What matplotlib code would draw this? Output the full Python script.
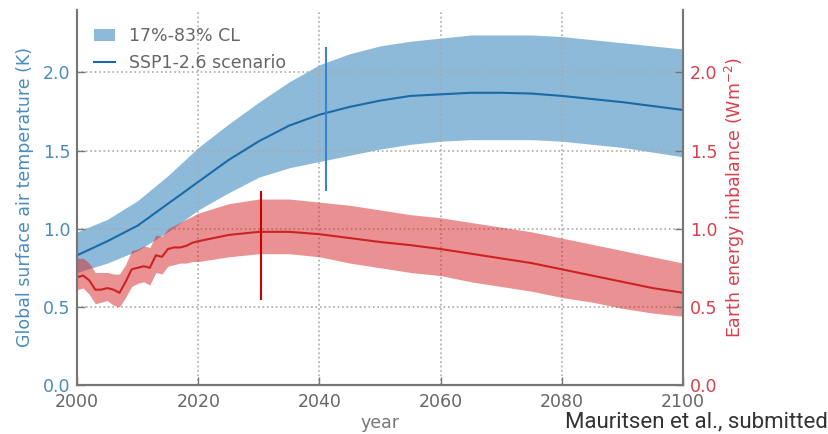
import numpy as np
import matplotlib
matplotlib.use('Agg')
import matplotlib.pyplot as plt
from matplotlib.patches import Patch
from matplotlib.lines import Line2D

# global surface air temperature (K), SSP1-2.6
temp_years = [2000, 2005, 2010, 2015, 2020, 2025, 2030, 2035, 2040, 2045, 2050,
              2055, 2060, 2065, 2070, 2075, 2080, 2085, 2090, 2095, 2100]
temp_mean = [0.83, 0.92, 1.02, 1.16, 1.30, 1.44, 1.56, 1.66, 1.73, 1.78, 1.82,
             1.85, 1.86, 1.87, 1.87, 1.865, 1.85, 1.83, 1.81, 1.785, 1.76]
temp_lo = [0.72, 0.78, 0.86, 0.98, 1.12, 1.23, 1.33, 1.39, 1.43, 1.47, 1.51,
           1.54, 1.56, 1.57, 1.57, 1.57, 1.56, 1.54, 1.52, 1.49, 1.46]
temp_hi = [0.98, 1.06, 1.18, 1.34, 1.52, 1.67, 1.81, 1.94, 2.05, 2.12, 2.17,
           2.20, 2.22, 2.24, 2.24, 2.24, 2.23, 2.21, 2.19, 2.17, 2.15]

# earth energy imbalance (W m-2)
eei_years = [2000, 2001, 2002, 2003, 2004, 2005, 2006, 2007, 2008, 2009, 2010,
             2011, 2012, 2013, 2014, 2015, 2016, 2017, 2018, 2019, 2020, 2025,
             2030, 2035, 2040, 2045, 2050, 2055, 2060, 2065, 2070, 2075, 2080,
             2085, 2090, 2095, 2100]
eei_mean = [0.69, 0.70, 0.67, 0.61, 0.61, 0.62, 0.61, 0.59, 0.66, 0.74, 0.75,
            0.76, 0.75, 0.83, 0.82, 0.87, 0.88, 0.88, 0.89, 0.91, 0.92, 0.96,
            0.98, 0.98, 0.965, 0.94, 0.915, 0.895, 0.87, 0.84, 0.81, 0.78, 0.74,
            0.70, 0.66, 0.62, 0.59]
eei_lo = [0.61, 0.62, 0.58, 0.52, 0.53, 0.54, 0.51, 0.50, 0.56, 0.63, 0.65,
          0.66, 0.64, 0.72, 0.71, 0.76, 0.77, 0.78, 0.78, 0.79, 0.79, 0.82,
          0.84, 0.84, 0.82, 0.78, 0.75, 0.72, 0.70, 0.66, 0.63, 0.60, 0.56,
          0.53, 0.49, 0.46, 0.44]
eei_hi = [0.81, 0.81, 0.78, 0.72, 0.72, 0.72, 0.71, 0.71, 0.77, 0.86, 0.87,
          0.89, 0.88, 0.96, 0.95, 1.00, 1.02, 1.04, 1.06, 1.08, 1.10, 1.16,
          1.19, 1.19, 1.17, 1.15, 1.12, 1.09, 1.07, 1.04, 1.01, 0.98, 0.94,
          0.90, 0.86, 0.82, 0.78]

# marker lines (year, bottom, top)
temp_mark = (2041, 1.24, 2.16)
eei_mark = (2030.4, 0.545, 1.24)

blue = '#1f77b4'
red = '#d62728'
grey = '#777777'

fig = plt.figure(figsize=(8.29, 4.34), dpi=100)
ax = fig.add_axes([0.093, 0.113, 0.731, 0.864])
ax2 = ax.twinx()

ax.fill_between(temp_years, temp_lo, temp_hi, color=blue, alpha=0.5, lw=0)
ax.plot(temp_years, temp_mean, color='#1a6aa8', lw=1.5)
ax.vlines(temp_mark[0], temp_mark[1], temp_mark[2], color='#3a85c8', lw=1.5)

ax2.fill_between(eei_years, eei_lo, eei_hi, color=red, alpha=0.5, lw=0)
ax2.plot(eei_years, eei_mean, color='#cc2222', lw=1.5)
ax2.vlines(eei_mark[0], eei_mark[1], eei_mark[2], color='#cc0000', lw=1.5)

for a in (ax, ax2):
    a.set_xlim(2000, 2100)
    a.set_ylim(0, 2.4)
    a.set_yticks([0, 0.5, 1.0, 1.5, 2.0])
    a.spines['top'].set_visible(False)
    for s in ('left', 'right', 'bottom'):
        a.spines[s].set_color(grey)
        a.spines[s].set_linewidth(1.5)
    a.tick_params(direction='in', length=6, width=1, color=grey, labelsize=12.5)

ax.set_xticks([2000, 2020, 2040, 2060, 2080, 2100])
ax.tick_params(axis='x', labelcolor='#666666', pad=6)
ax.tick_params(axis='y', labelcolor='#4a8cc0', pad=5)
ax2.tick_params(axis='y', labelcolor='#d9404a', pad=5)
ax.grid(True, ls=':', color='#aaaaaa', lw=1.2)

ax.set_yticklabels(['0.0', '0.5', '1.0', '1.5', '2.0'])
ax2.set_yticklabels(['0.0', '0.5', '1.0', '1.5', '2.0'])

ax.set_ylabel('Global surface air temperature (K)', color='#4a8cc0', fontsize=12.5,
              labelpad=6)
ax2.set_ylabel('Earth energy imbalance (Wm$^{-2}$)', color='#d9404a', fontsize=12.5)
ax.set_xlabel('year', color='#777777', fontsize=12.5, labelpad=2)

handles = [Patch(facecolor=blue, alpha=0.5, lw=0),
           Line2D([], [], color='#1a6aa8', lw=1.5)]
leg = ax.legend(handles, ['17%-83% CL', 'SSP1-2.6 scenario'], loc='upper left',
                frameon=False, fontsize=12.5, handlelength=1.2, borderaxespad=0.6)
for t in leg.get_texts():
    t.set_color('#666666')

fig.text(0.999, 0.003, 'Mauritsen et al., submitted', ha='right', va='bottom',
         fontsize=16, family='Roboto', color='#333333')

fig.savefig('out.png', dpi=100)
